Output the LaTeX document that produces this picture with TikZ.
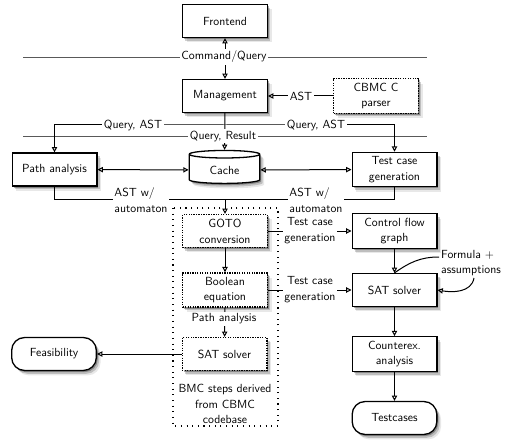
\documentclass[tikz,border=0pt]{standalone}
\usetikzlibrary{shapes.geometric,arrows.meta,shadows}
\tikzset{
	box/.style={draw, line width=1.1pt, fill=white, minimum width=72pt, minimum height=28pt, align=center,
		drop shadow={shadow xshift=1.2pt, shadow yshift=-1.4pt, opacity=0.3, fill=black},
		drop shadow={shadow xshift=2.4pt, shadow yshift=-2.8pt, opacity=0.18, fill=black},
		drop shadow={shadow xshift=3.6pt, shadow yshift=-4.2pt, opacity=0.09, fill=black}},
	dbox/.style={box, densely dotted},
	term/.style={box, rounded corners=11pt},
	store/.style={box, cylinder, shape border rotate=90, aspect=0.2, minimum width=60pt, minimum height=28pt},
	lbl/.style={fill=white, inner sep=1.5pt, align=center},
	sep/.style={gray!70!black, line width=0.5pt},
	conn/.style={line width=0.85pt, >={Triangle[open,length=4.5pt,width=4.5pt]}},
}
\begin{document}
\begin{tikzpicture}[x=0.85pt, y=-0.85pt, font=\sffamily\fontsize{10}{13.5}\selectfont]
		\useasboundingbox (0,0) rectangle (505,441);
		%%Start of figure.
			%group of BMC steps%
			\draw[line width=0.9pt, dash pattern=on 0.9pt off 3.9pt] (173,208) rectangle (278,426);
			
			\node[box] (frontend) at (225,21) {Frontend};
			\node[box] (mgmt) at (225,96) {Management};
			\node[dbox] (parser) at (376,96) {CBMC C\\parser};
			\node[box] (path) at (54.5,169.5) {Path analysis};
			\node[store] (cache) at (224.5,170) {Cache};
			\node[box] (tcg) at (394.5,169.5) {Test case\\generation};
			\node[dbox] (goto) at (225,231) {GOTO\\conversion};
			\node[dbox] (bool) at (225,290) {Boolean\\equation};
			\node[dbox] (satd) at (224.5,354) {SAT solver};
			\node[term] (feas) at (54,354) {Feasibility};
			\node[box] (cfg) at (394.5,231) {Control flow\\graph};
			\node[box] (sat) at (394.5,290) {SAT solver};
			\node[box] (cex) at (394.5,354) {Counterex.\\analysis};
			\node[term] (testc) at (394.5,418) {Testcases};
			\node[align=center] (bmc) at (225,404) {BMC steps derived\\from CBMC\\codebase};
			\node[align=left] (formula) at (471,263) {Formula +\\assumptions};
			
			\coordinate (qa) at (225,125);
			\coordinate (jn) at (225,200);
			\coordinate (fa) at (439,257);
			\coordinate (fb) at (474,278);
			
			%layers%
			\draw[sep] (23,57) -- (427,57);
			\draw[sep] (23,136) -- (427,136);
			
			%connectors%
			\draw[conn,<->] (mgmt) -- (frontend);
			\draw[conn,->] (parser) -- (mgmt);
			\draw[conn,<->] (path.north) |- (qa) -| (tcg.north);
			\draw[conn,->] (mgmt) -- (cache);
			\draw[conn,<->] (path) -- (cache);
			\draw[conn,<->] (cache) -- (tcg);
			\draw[conn] (path.south) |- (jn);
			\draw[conn] (tcg.south) |- (jn);
			\draw[conn,->] (jn) -- (goto);
			\draw[conn,->] (goto) -- (bool);
			\draw[conn,->] (bool) -- (satd);
			\draw[conn,->] (satd) -- (feas);
			\draw[conn,->] (goto) -- (cfg);
			\draw[conn,->] (bool) -- (sat);
			\draw[conn,->] (cfg) -- (sat);
			\draw[conn,->] (sat) -- (cex);
			\draw[conn,->] (cex) -- (testc);
			\draw[conn] (fa) to[out=180,in=35] (sat.north);
			\draw[conn,->] (fb) to[out=-100,in=-10] (sat.east);
			
			%labels%
			\node[lbl] (lcmd) at (224,57) {Command/Query};
			\node[lbl] (last) at (301,96) {AST};
			\node[lbl] (lqa1) at (133,125) {Query, AST};
			\node[lbl] (lqa2) at (316,125) {Query, AST};
			\node[lbl] (lqr) at (223,136) {Query, Result};
			\node[lbl, align=left] (law1) at (141,200) {AST w/\\automaton};
			\node[lbl, align=left] (law2) at (316,200) {AST w/\\automaton};
			\node[lbl] (ltc1) at (310,231) {Test case\\generation};
			\node[lbl] (ltc2) at (310,290) {Test case\\generation};
			\node[lbl] (lpa) at (224,319) {Path analysis};
		\end{tikzpicture}
\end{document}
